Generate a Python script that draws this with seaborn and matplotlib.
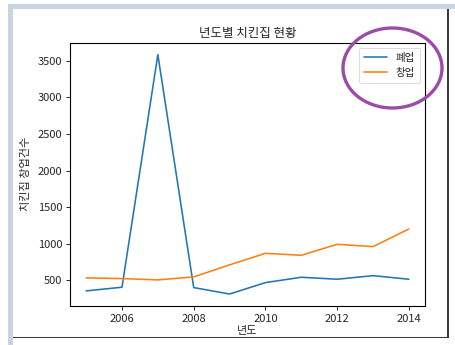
import matplotlib
matplotlib.use("Agg")
import matplotlib.pyplot as plt
from matplotlib.patches import Rectangle, Ellipse
import pandas as pd
import seaborn as sns

years = [2005, 2006, 2007, 2008, 2009, 2010, 2011, 2012, 2013, 2014]
closed = [357, 407, 3582, 402, 314, 470, 543, 516, 565, 516]
opened = [534, 525, 507, 548, 712, 870, 843, 993, 961, 1202]

title = "년도별 치킨집 현황"
xlabel = "년도"
ylabel = "치킨집 창업건수"
closed_label = "폐업"
opened_label = "창업"

sns.set_style("white")
plt.rcParams["font.family"] = ["Noto Sans CJK KR", "DejaVu Sans"]
plt.rcParams["axes.unicode_minus"] = False

W, H = 456, 345
fig = plt.figure(figsize=(W / 100, H / 100), dpi=100)
fig.patch.set_facecolor("white")

# window frame around the figure
def px_rect(x0, y0, x1, y1, color):
    fig.patches.append(Rectangle((x0 / W, 1 - y1 / H), (x1 - x0) / W, (y1 - y0) / H,
                                 transform=fig.transFigure, facecolor=color,
                                 edgecolor="none", zorder=0))

px_rect(8, 4, 456, 9, "#c9d4e3")
px_rect(8, 4, 13, 345, "#c9d4e3")
px_rect(447.5, 9, 449, 338, "#3a3a3a")
px_rect(13, 336.5, 449, 338, "#3a3a3a")

ax = fig.add_axes([70 / W, 1 - 306 / H, (425 - 70) / W, (306 - 42.7) / H])
ax.set_facecolor("white")

df = pd.DataFrame({"year": years, "closed": closed, "opened": opened})
sns.lineplot(data=df, x="year", y="closed", ax=ax, color="#1f77b4",
             linewidth=1.15, label=closed_label)
sns.lineplot(data=df, x="year", y="opened", ax=ax, color="#ff7f0e",
             linewidth=1.15, label=opened_label)

for s in ax.spines.values():
    s.set_color("black")
    s.set_linewidth(0.8)
ax.tick_params(axis="both", which="major", length=3, width=0.7, labelsize=8,
               left=True, bottom=True, direction="out", pad=2.5)
ax.set_xticks([2006, 2008, 2010, 2012, 2014])
ax.set_yticks([500, 1000, 1500, 2000, 2500, 3000, 3500])
ax.set_title(title, fontsize=9, pad=4)
ax.set_xlabel(xlabel, fontsize=8, labelpad=2)
ax.set_ylabel(ylabel, fontsize=8, labelpad=5)

leg = ax.legend(loc="upper right", fontsize=7.5, frameon=True, handlelength=2.2,
                borderpad=0.5, labelspacing=0.45, handletextpad=0.8)
leg.get_frame().set_edgecolor("#cccccc")
leg.get_frame().set_linewidth(0.6)

# highlight ring around the legend
fig.patches.append(Ellipse((392.5 / W, 1 - 68 / H), 99 / W, 80 / H,
                           transform=fig.transFigure, facecolor="none",
                           edgecolor="#9b4ca8", linewidth=2.4, zorder=10))

fig.savefig("out.png", dpi=100)
